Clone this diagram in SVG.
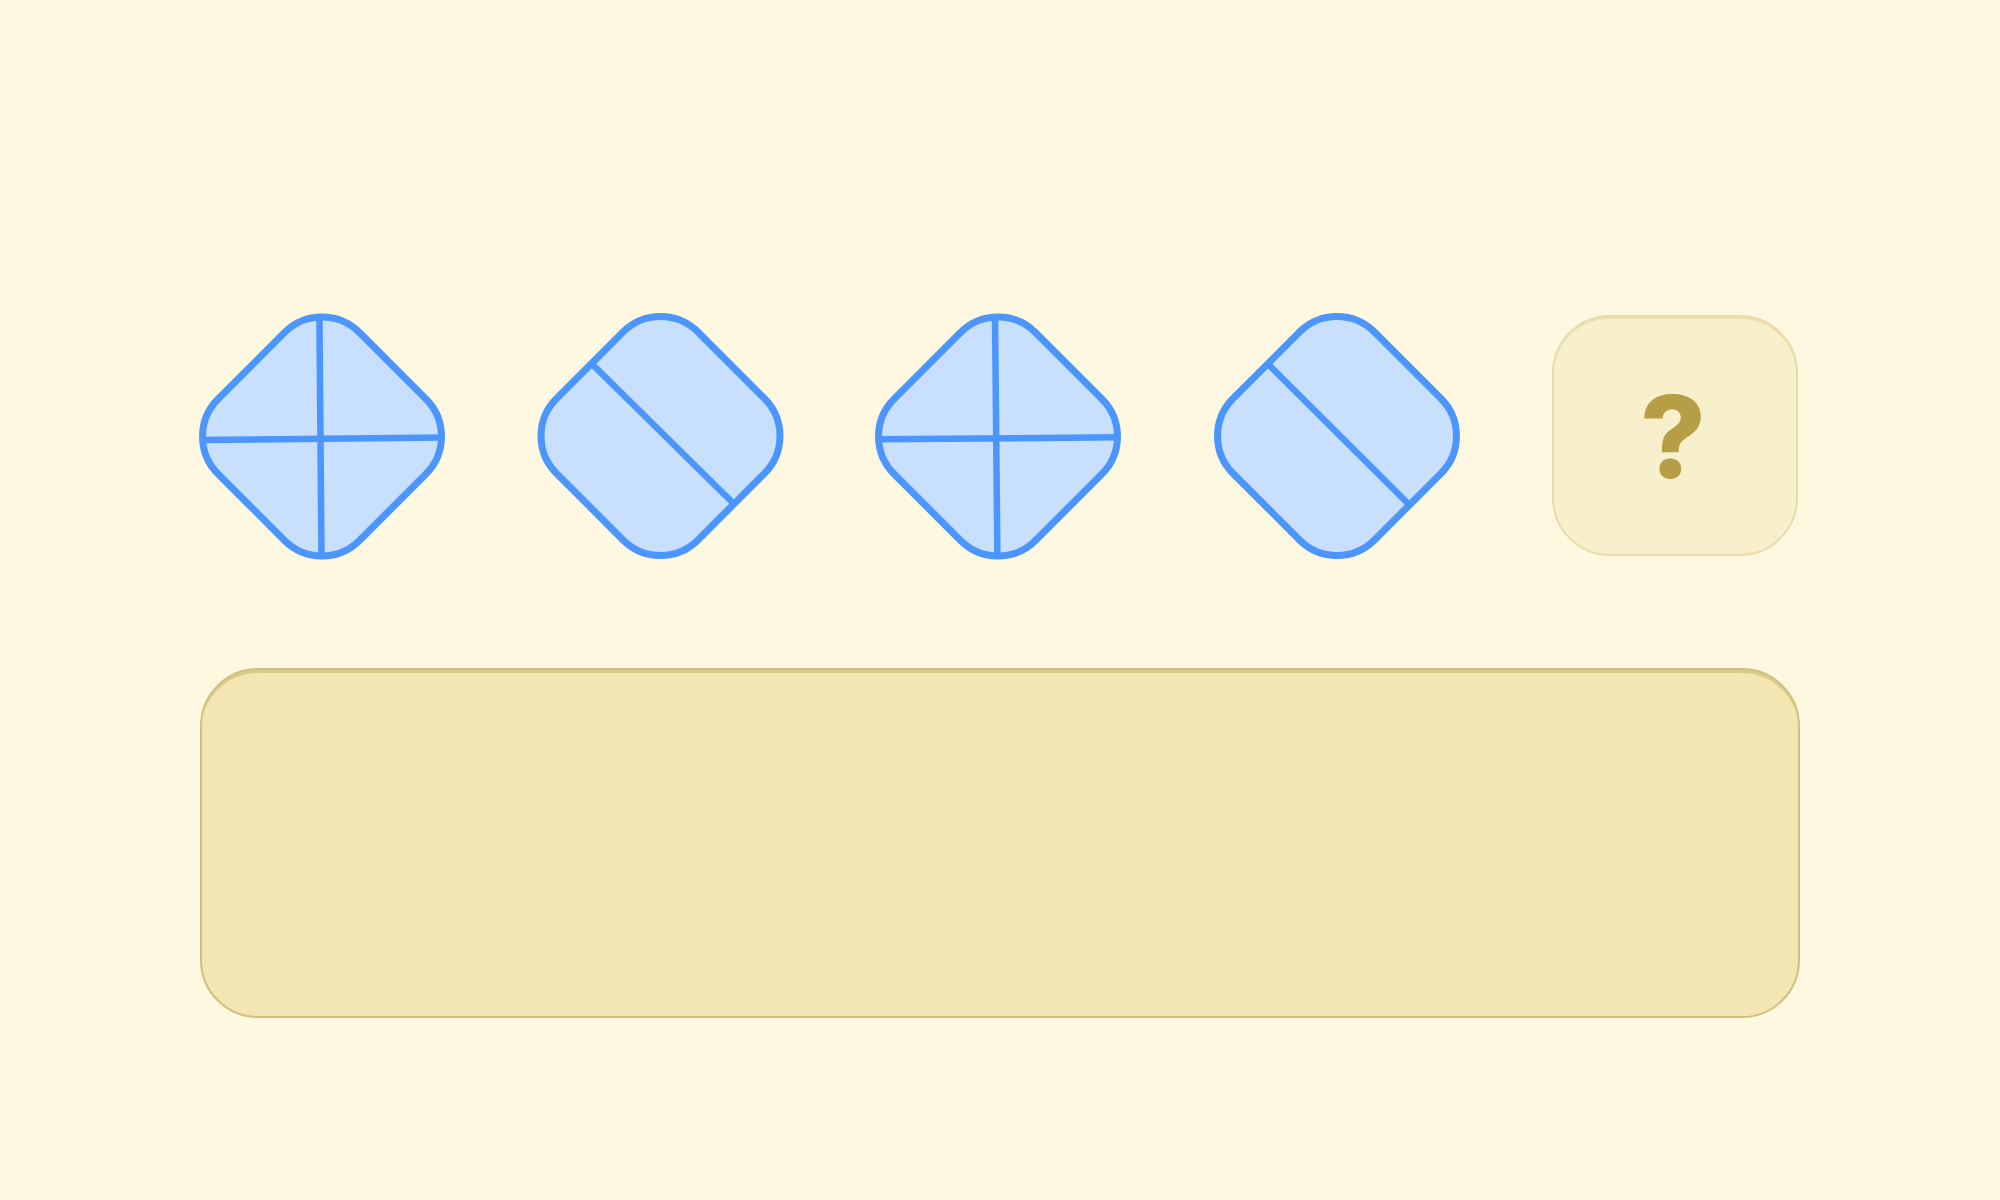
<svg xmlns="http://www.w3.org/2000/svg" width="2000" height="1200" viewBox="0 0 2000 1200">
  <style>
    .dia { fill: #c8dffe; stroke: #4c95fd; stroke-width: 7; }
    .div { stroke: #4c95fd; stroke-width: 6.5; stroke-linecap: butt; fill: none; }
    .q { font-family: Inter, "Noto Sans", "Liberation Sans", sans-serif; font-weight: 800; font-size: 114px; fill: #b59e45; }
  </style>
  <defs>
    <rect id="rsq" x="-100" y="-100" width="200" height="200" rx="53" ry="53"/>
    <clipPath id="clipQ"><rect x="1553" y="316" width="244" height="239" rx="57" ry="57"/></clipPath>
    <clipPath id="clipB"><rect x="201" y="669" width="1598" height="348" rx="57" ry="57"/></clipPath>
  </defs>
  <rect x="0" y="0" width="2000" height="1200" fill="#fef8e1"/>

  <g id="shape1">
    <use href="#rsq" class="dia" transform="translate(322 436.5) rotate(45)"/>
    <line class="div" x1="319.4" y1="316" x2="321.5" y2="557"/>
    <line class="div" x1="201" y1="440" x2="443.5" y2="437.5"/>
  </g>

  <g id="shape2">
    <use href="#rsq" class="dia" transform="translate(660.5 436) rotate(45)"/>
    <line class="div" x1="591.5" y1="363.5" x2="733.5" y2="503.5"/>
  </g>

  <g id="shape3">
    <use href="#rsq" class="dia" transform="translate(998 436.5) rotate(45)"/>
    <line class="div" x1="995" y1="316" x2="997.4" y2="557"/>
    <line class="div" x1="877" y1="439.3" x2="1119.5" y2="437.3"/>
  </g>

  <g id="shape4">
    <use href="#rsq" class="dia" transform="translate(1337 436) rotate(45)"/>
    <line class="div" x1="1266.5" y1="362.5" x2="1408.5" y2="504"/>
  </g>

  <g id="question">
    <rect x="1553" y="316" width="244" height="239" rx="57" ry="57" fill="#f8efcc"/>
    <g clip-path="url(#clipQ)">
      <path fill="#ece1b4" fill-rule="evenodd" d="M1553 373 a57 57 0 0 1 57 -57 h130 a57 57 0 0 1 57 57 v200 h-244 z M1553 376 a57 57 0 0 1 57 -57 h130 a57 57 0 0 1 57 57 v200 h-244 z"/>
    </g>
    <rect x="1553" y="316" width="244" height="239" rx="57" ry="57" fill="none" stroke="#e8dcab" stroke-width="2"/>
    <text class="q" x="1673" y="478" text-anchor="middle">?</text>
  </g>

  <g id="answer">
    <rect x="201" y="669" width="1598" height="348" rx="57" ry="57" fill="#f3e6b3"/>
    <g clip-path="url(#clipB)">
      <path fill="#d9cb8e" fill-rule="evenodd" d="M201 726 a57 57 0 0 1 57 -57 h1484 a57 57 0 0 1 57 57 v300 h-1598 z M201 730 a57 57 0 0 1 57 -57 h1484 a57 57 0 0 1 57 57 v300 h-1598 z"/>
    </g>
    <rect x="201" y="669" width="1598" height="348" rx="57" ry="57" fill="none" stroke="#cfc17f" stroke-width="2"/>
  </g>

  <g id="connectors"></g>
</svg>
